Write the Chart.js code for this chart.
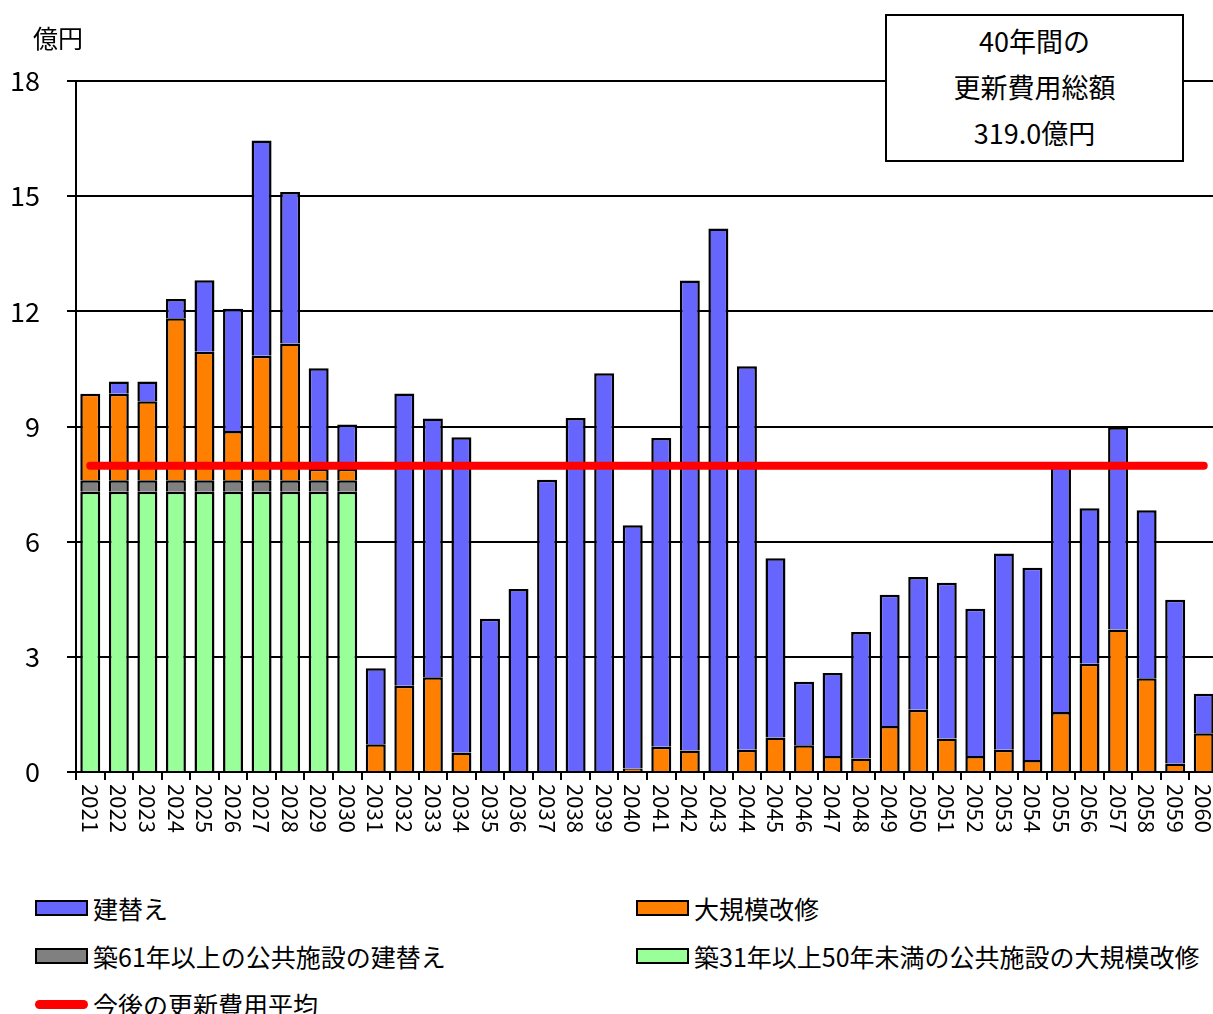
<!DOCTYPE html>
<html>
<head>
<meta charset="utf-8">
<title>更新費用の推計</title>
<script src="https://cdn.jsdelivr.net/npm/chart.js"></script>
<style>
  html, body { margin: 0; padding: 0; background: #fff; overflow: hidden; }
  body { font-family: 'Noto Sans CJK JP', sans-serif; color: #000; }
  #wrap { position: relative; width: 1213px; height: 1014px; overflow: hidden; }
  #chart { position: absolute; left: 0; top: 0; }
  #unit { position: absolute; left: 33px; top: 19px; font-size: 25px; line-height: 36px; }
  #total {
    position: absolute; left: 885px; top: 14px; width: 295px; height: 142px;
    border: 2px solid #000; background: #fff; text-align: center;
    font-size: 27px; line-height: 46px; padding-top: 2px; box-sizing: content-box;
  }
  #total div { height: 46px; }
  #legend { position: absolute; left: 0; top: 884px; width: 1213px; }
  .item { position: absolute; height: 48px; display: flex; align-items: center; font-size: 25px; line-height: 48px; white-space: nowrap; }
  .swatch { width: 49px; height: 12px; border: 2px solid #000; margin-right: 5px; }
  .swatch.line { width: 53px; height: 9px; border: none; border-radius: 5px; margin-right: 5px; }
</style>
</head>
<body>
<div id="wrap">
  <canvas id="chart" width="1218" height="860"></canvas>
  <div id="unit">億円</div>
  <div id="total">
    <div>40年間の</div>
    <div>更新費用総額</div>
    <div>319.0億円</div>
  </div>
  <div id="legend"></div>
</div>
<script>
// 年度
var years = ['2021','2022','2023','2024','2025','2026','2027','2028','2029','2030',
             '2031','2032','2033','2034','2035','2036','2037','2038','2039','2040',
             '2041','2042','2043','2044','2045','2046','2047','2048','2049','2050',
             '2051','2052','2053','2054','2055','2056','2057','2058','2059','2060'];

// 建替え
var rebuild = [0, 0.32, 0.51, 0.50, 1.86, 3.19, 5.61, 3.95, 2.62, 1.15,
               1.98, 7.61, 6.74, 8.21, 3.99, 4.77, 7.61, 9.22, 10.39, 6.34,
               8.04, 12.24, 14.16, 9.99, 4.67, 1.65, 2.16, 3.30, 3.42, 3.46,
               4.06, 3.83, 5.11, 5.01, 6.44, 4.05, 5.27, 4.38, 4.27, 1.03];

// 大規模改修
var renovation = [2.25, 2.25, 2.06, 4.22, 3.35, 1.28, 3.24, 3.56, 0.30, 0.30,
                  0.72, 2.25, 2.47, 0.51, 0, 0, 0, 0, 0, 0.09,
                  0.66, 0.56, 0, 0.58, 0.90, 0.70, 0.42, 0.35, 1.20, 1.62,
                  0.87, 0.42, 0.58, 0.31, 1.56, 2.82, 3.71, 2.44, 0.22, 1.01];

// 築61年以上の公共施設の建替え
var oldRebuild = [0.30, 0.30, 0.30, 0.30, 0.30, 0.30, 0.30, 0.30, 0.30, 0.30,
                  0, 0, 0, 0, 0, 0, 0, 0, 0, 0,
                  0, 0, 0, 0, 0, 0, 0, 0, 0, 0,
                  0, 0, 0, 0, 0, 0, 0, 0, 0, 0];

// 築31年以上50年未満の公共施設の大規模改修
var midRenovation = [7.30, 7.30, 7.30, 7.30, 7.30, 7.30, 7.30, 7.30, 7.30, 7.30,
                     0, 0, 0, 0, 0, 0, 0, 0, 0, 0,
                     0, 0, 0, 0, 0, 0, 0, 0, 0, 0,
                     0, 0, 0, 0, 0, 0, 0, 0, 0, 0];

// 今後の更新費用平均 (319.0億円 / 40年)
var average = 7.975;
var averageLine = years.map(function() { return average; });

var yTicks = [0, 3, 6, 9, 12, 15, 18];

Chart.defaults.font.family = "'Noto Sans CJK JP', sans-serif";
Chart.defaults.color = '#000';

// x軸の年ラベルを縦書き（上から下）で描く
var yearLabels = {
    id: 'yearLabels',
    afterDraw: function(chart) {
        var ctx = chart.ctx;
        var xs = chart.scales.x;
        ctx.save();
        ctx.font = "22px 'Noto Sans CJK JP', sans-serif";
        ctx.fillStyle = '#000';
        ctx.textAlign = 'left';
        ctx.textBaseline = 'middle';
        years.forEach(function(label, i) {
            ctx.save();
            ctx.translate(xs.getPixelForValue(i), xs.top + 12);
            ctx.rotate(Math.PI / 2);
            ctx.fillText(label, 0, 0);
            ctx.restore();
        });
        ctx.restore();
    }
};

var chart = new Chart(document.getElementById('chart'), {
    type: 'bar',
    data: {
        labels: years,
        datasets: [
            { type: 'line', label: '今後の更新費用平均', data: averageLine, stack: 'avg',
              borderColor: '#ff0000', backgroundColor: '#ff0000', borderWidth: 8,
              borderCapStyle: 'round', pointRadius: 0, fill: false, order: 0 },
            { label: '築31年以上50年未満の公共施設の大規模改修', data: midRenovation, backgroundColor: '#99ff99', order: 1 },
            { label: '築61年以上の公共施設の建替え', data: oldRebuild, backgroundColor: '#808080', order: 1 },
            { label: '大規模改修', data: renovation, backgroundColor: '#ff8000', order: 1 },
            { label: '建替え', data: rebuild, backgroundColor: '#6666ff', order: 1 }
        ]
    },
    options: {
        responsive: false,
        animation: false,
        layout: { padding: { top: 81, left: 0, right: 0, bottom: 0 } },
        datasets: {
            bar: { borderColor: '#000', borderWidth: 2.5, barPercentage: 0.70, categoryPercentage: 1.0, stack: 'cost' }
        },
        plugins: {
            legend: { display: false },
            tooltip: { enabled: false }
        },
        scales: {
            x: {
                stacked: true,
                offset: true,
                grid: { drawOnChartArea: false, drawTicks: true, tickLength: 8, color: '#000', lineWidth: 2, offset: true },
                border: { color: '#000', width: 2 },
                ticks: { display: false },
                afterFit: function(scale) { scale.height = 88; }
            },
            y: {
                stacked: true,
                min: 0,
                max: 18,
                afterBuildTicks: function(scale) {
                    scale.ticks = yTicks.map(function(v) { return { value: v }; });
                },
                grid: { color: '#000', lineWidth: 2, tickLength: 9 },
                border: { color: '#000', width: 2 },
                ticks: { font: { size: 27 }, padding: 27 },
                afterFit: function(scale) { scale.width = 76; }
            }
        }
    },
    plugins: [yearLabels]
});

// 凡例（2列）
var legendItems = [
    { text: '建替え', color: '#6666ff', col: 0, row: 0 },
    { text: '大規模改修', color: '#ff8000', col: 1, row: 0 },
    { text: '築61年以上の公共施設の建替え', color: '#808080', col: 0, row: 1 },
    { text: '築31年以上50年未満の公共施設の大規模改修', color: '#99ff99', col: 1, row: 1 },
    { text: '今後の更新費用平均', color: '#ff0000', col: 0, row: 2, line: true }
];
var legendEl = document.getElementById('legend');
legendItems.forEach(function(it) {
    var d = document.createElement('div');
    d.className = 'item';
    d.style.left = (it.col ? 636 : 35) + 'px';
    d.style.top = (it.row * 48) + 'px';
    var sw = document.createElement('span');
    sw.className = it.line ? 'swatch line' : 'swatch';
    sw.style.background = it.color;
    var t = document.createElement('span');
    t.textContent = it.text;
    d.appendChild(sw);
    d.appendChild(t);
    legendEl.appendChild(d);
});
</script>
</body>
</html>
